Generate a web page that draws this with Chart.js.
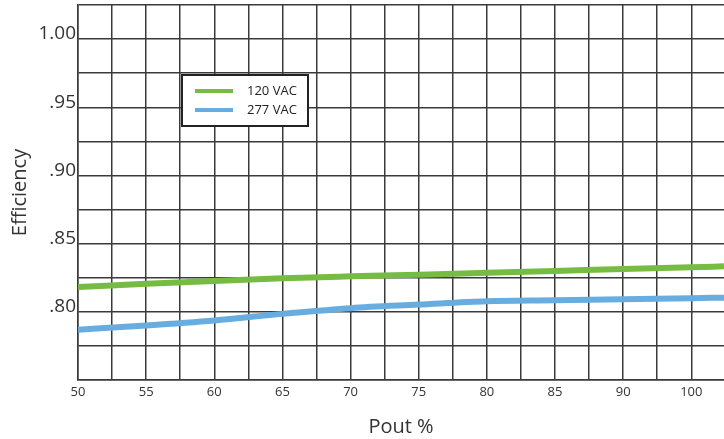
<!DOCTYPE html>
<html>
<head>
<meta charset="utf-8">
<script src="https://cdn.jsdelivr.net/npm/chart.js@4.4.1/dist/chart.umd.min.js"></script>
<style>
  html, body { margin: 0; padding: 0; background: #fff; }
  #wrap { width: 724px; height: 439px; position: relative; }
</style>
</head>
<body>
<div id="wrap"><canvas id="grafikEfisiensi"></canvas></div>
<script>
const poutPersen = [50, 55, 60, 65, 70, 75, 80, 85, 90, 95, 97.4];
const efisiensi120 = [0.8182, 0.8205, 0.8226, 0.8246, 0.826, 0.8272, 0.8287, 0.83, 0.8314, 0.8326, 0.8334];
const efisiensi277 = [0.7869, 0.790, 0.7937, 0.7985, 0.8027, 0.8053, 0.8078, 0.8085, 0.8093, 0.810, 0.8104];

const xTickValues = [50, 52.5, 55, 57.5, 60, 62.5, 65, 67.5, 70, 72.5, 75, 77.5, 80, 82.5, 85, 87.5, 90, 92.5, 95, 97.4];
const xTickLabels = ["50", "", "55", "", "60", "", "65", "", "70", "", "75", "", "80", "", "85", "", "90", "", "100", ""];
const yTickValues = [0.75, 0.775, 0.8, 0.825, 0.85, 0.875, 0.9, 0.925, 0.95, 0.975, 1.0, 1.025];
const yTickLabels = ["", "", ".80", "", ".85", "", ".90", "", ".95", "", "1.00", ""];

const warnaGrid = "#3a3a3a";
const hurufDasar = "'Open Sans', 'Noto Sans', sans-serif";

// legend kotak di dalam area grafik
const legendKotak = {
  id: "legendKotak",
  afterDraw(chart) {
    const ctx = chart.ctx;
    const area = chart.chartArea;
    const x = area.left + 104;
    const y = area.top + 70;
    const w = 126;
    const h = 51;
    ctx.save();
    ctx.fillStyle = "#fff";
    ctx.fillRect(x, y, w, h);
    ctx.lineWidth = 2;
    ctx.strokeStyle = "#222";
    ctx.strokeRect(x, y, w, h);
    ctx.font = "13px " + hurufDasar;
    ctx.textBaseline = "middle";
    chart.data.datasets.forEach((ds, i) => {
      const yy = y + 16 + i * 19;
      ctx.strokeStyle = ds.borderColor;
      ctx.lineWidth = 4;
      ctx.beginPath();
      ctx.moveTo(x + 13, yy);
      ctx.lineTo(x + 51, yy);
      ctx.stroke();
      ctx.fillStyle = "#222";
      ctx.fillText(ds.label, x + 65, yy);
    });
    ctx.restore();
  },
};

const grafik = new Chart(document.getElementById("grafikEfisiensi").getContext("2d"), {
  type: "line",
  data: {
    datasets: [
      {
        label: "120 VAC",
        data: poutPersen.map((x, i) => ({ x: x, y: efisiensi120[i] })),
        borderColor: "#76bc43",
        borderWidth: 6,
        pointRadius: 0,
        cubicInterpolationMode: "monotone",
      },
      {
        label: "277 VAC",
        data: poutPersen.map((x, i) => ({ x: x, y: efisiensi277[i] })),
        borderColor: "#68ade0",
        borderWidth: 6,
        pointRadius: 0,
        cubicInterpolationMode: "monotone",
      },
    ],
  },
  options: {
    responsive: true,
    maintainAspectRatio: false,
    animation: false,
    layout: { padding: { top: 5, right: 0, left: 0, bottom: 0 } },
    plugins: {
      legend: { display: false },
      tooltip: { enabled: false },
    },
    scales: {
      x: {
        type: "linear",
        min: 50,
        max: 97.4,
        afterBuildTicks: (scale) => {
          scale.ticks = xTickValues.map((v) => ({ value: v }));
        },
        afterFit: (scale) => {
          scale.height = 59;
          scale.paddingLeft = 0;
          scale.paddingRight = 0;
        },
        grid: {
          color: (c) => (c.index === xTickValues.length - 1 ? "transparent" : warnaGrid),
          lineWidth: 1.5,
          drawTicks: false,
        },
        border: { color: warnaGrid, width: 1.5 },
        ticks: {
          autoSkip: false,
          maxRotation: 0,
          padding: 4,
          color: "#333",
          font: { family: hurufDasar, size: 13 },
          callback: (v, i) => xTickLabels[i],
        },
        title: {
          display: true,
          text: "Pout %",
          color: "#333",
          font: { family: hurufDasar, size: 20 },
          padding: { top: 0, bottom: 0 },
        },
      },
      y: {
        type: "linear",
        min: 0.75,
        max: 1.025,
        afterBuildTicks: (scale) => {
          scale.ticks = yTickValues.map((v) => ({ value: v }));
        },
        afterFit: (scale) => {
          scale.width = 78;
          scale.paddingTop = 0;
          scale.paddingBottom = 0;
        },
        grid: {
          color: warnaGrid,
          lineWidth: 1.5,
          drawTicks: false,
        },
        border: { color: warnaGrid, width: 1.5 },
        ticks: {
          autoSkip: false,
          padding: 2,
          labelOffset: -5,
          color: "#333",
          font: { family: hurufDasar, size: 19 },
          callback: (v, i) => yTickLabels[i],
        },
        title: {
          display: true,
          text: "Efficiency",
          color: "#333",
          font: { family: hurufDasar, size: 20 },
          padding: { top: 8, bottom: 0 },
        },
      },
    },
  },
  plugins: [legendKotak],
});
</script>
</body>
</html>
